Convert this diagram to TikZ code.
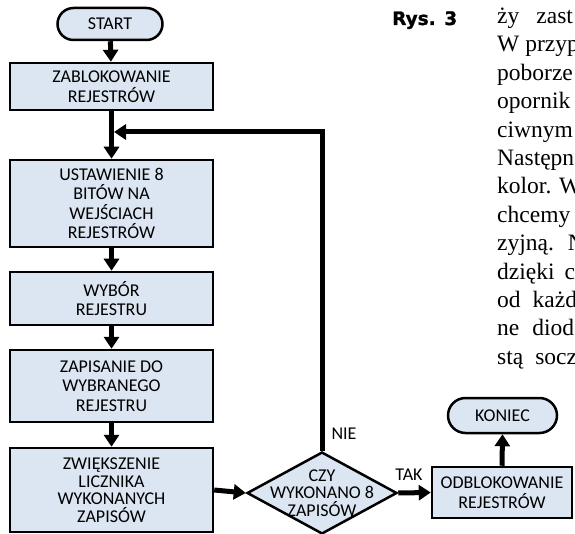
\documentclass[tikz,border=0pt]{standalone}
\usepackage{fontspec}
\setmainfont{Liberation Serif}
\newfontfamily\boxfont{Carlito}
\newfontfamily\rysfont[FakeBold=1.2]{DejaVu Sans Bold}
\usetikzlibrary{arrows.meta,shapes.geometric}
\definecolor{boxfill}{RGB}{220,230,242}
\begin{document}
\begin{tikzpicture}[x=1pt,y=-1pt,
  flowbox/.style={draw, line width=2.5pt, fill=boxfill, align=center, inner sep=0pt,
    font=\boxfont\fontsize{18}{19.5}\selectfont, minimum width=203pt},
  pill/.style={flowbox, rounded corners=16pt},
  flowarrow/.style={line width=5pt, -{Triangle[length=12pt,width=15pt]}},
  lbl/.style={font=\boxfont\fontsize{18}{17.5}\selectfont, inner sep=0pt, align=center},
  body/.style={anchor=base west, inner sep=0pt, font=\fontsize{23.5}{28}\selectfont}
]
\useasboundingbox (0,0) rectangle (575,534);
\fill[white] (0,0) rectangle (575,534);

% flow boxes
\node[pill, minimum width=105pt, minimum height=32pt] (start) at (110,24) {START};
\node[flowbox, minimum height=47pt] (zab) at (111.5,86.5) {ZABLOKOWANIE\\REJESTRÓW};
\node[flowbox, minimum height=87pt] (ust) at (111.5,203.5) {USTAWIENIE 8\\BITÓW NA\\WEJŚCIACH\\REJESTRÓW};
\node[flowbox, minimum height=53pt] (wyb) at (111.5,298.5) {WYBÓR\\REJESTRU};
\node[flowbox, minimum height=72pt] (zap) at (111.5,386) {ZAPISANIE DO\\WYBRANEGO\\REJESTRU};
\node[flowbox, minimum height=84pt, font=\boxfont\fontsize{18}{17.5}\selectfont] (zwi) at (111.5,490) {ZWIĘKSZENIE\\LICZNIKA\\WYKONANYCH\\ZAPISÓW};
\node[diamond, draw, line width=2.5pt, fill=boxfill, minimum width=150pt, minimum height=82pt, inner sep=0pt] (dia) at (322,493) {};
\node[lbl] (diatext) at (322,493) {CZY\\WYKONANO 8\\ZAPISÓW};
\node[flowbox, minimum width=140pt, minimum height=51pt] (odb) at (502,492.5) {ODBLOKOWANIE\\REJESTRÓW};
\node[pill, minimum width=109pt, minimum height=35pt, rounded corners=17.5pt] (kon) at (502.5,415.5) {KONIEC};

% labels
\node[lbl] (nie) at (344,434) {NIE};
\node[lbl] (tak) at (409,475) {TAK};

% connectors
\coordinate (join) at (114,132);
\draw[flowarrow] (start) -- (zab);
\draw[flowarrow] (zab) -- (ust);
\draw[flowarrow] (ust) -- (wyb);
\draw[flowarrow] (wyb) -- (zap);
\draw[flowarrow] (zap) -- (zwi);
\draw[flowarrow] (zwi.east) -- (dia.west);
\draw[flowarrow] (dia.east) -- (odb.west);
\draw[flowarrow] (odb.north) -- (kon.south);
\draw[flowarrow] (dia.north) -- (dia.north |- join) -- (join);

% caption
\node[anchor=base west, inner sep=0pt, font=\rysfont\fontsize{18.5}{20}\selectfont] (rys) at (392,25) {Rys. 3};

% body text (cropped column)
\begin{scope}
\clip (0,0) rectangle (575,534);
\node[body] (t1) at (497,23.5) {ży\hspace{17pt}zast};
\node[body] (t2) at (497,51.9) {W przyp};
\node[body] (t3) at (497,80.3) {poborze};
\node[body] (t4) at (497,108.7) {opornik};
\node[body] (t5) at (497,137.1) {ciwnym};
\node[body] (t6) at (497,165.5) {Następn};
\node[body] (t7) at (497,193.9) {kolor. W};
\node[body] (t8) at (497,222.3) {chcemy};
\node[body] (t9) at (497,250.7) {zyjną.\hspace{14pt}N};
\node[body] (t10) at (497,279.1) {dzięki\hspace{10pt}c};
\node[body] (t11) at (497,307.5) {od\hspace{12pt}każd};
\node[body] (t12) at (497,335.9) {ne\hspace{13pt}diod};
\node[body] (t13) at (497,364.3) {stą\hspace{12pt}socz};
\end{scope}
\end{tikzpicture}
\end{document}
